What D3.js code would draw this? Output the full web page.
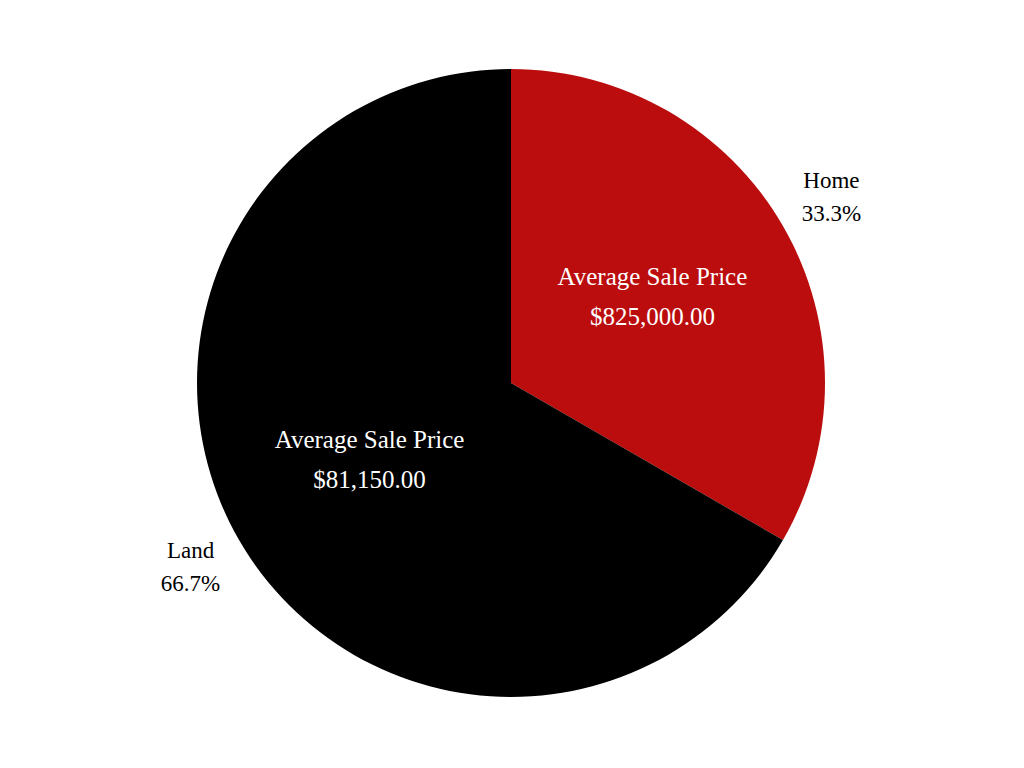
<!DOCTYPE html>
<html lang="en">
<head>
  <meta charset="UTF-8">
  <title>Average Sale Price by Property Type</title>
  <script src="https://d3js.org/d3.v7.min.js"></script>
  <style>
    body { margin: 0; background: #fff; }
    text { font-family: 'Liberation Serif', 'DejaVu Serif', serif; }
    .inner { fill: #fff; font-size: 25px; }
    .outer { fill: #000; font-size: 23px; }
  </style>
</head>
<body>
  <svg id="chart" width="1024" height="768"></svg>
  <script>
    const categories = ["Home", "Land"];
    const counts = [1, 2];
    const avgPrices = [825000, 81150];
    const colors = ["#bb0d0d", "#000000"];

    const svg = d3.select("#chart");
    const cx = 511, cy = 383;
    const radius = 314;

    const data = categories.map((c, i) => ({ name: c, count: counts[i], price: avgPrices[i], color: colors[i] }));
    const total = d3.sum(counts);

    const pie = d3.pie().sort(null).value(d => d.count);
    const arcs = pie(data);

    const arc = d3.arc().innerRadius(0).outerRadius(radius);
    const innerArc = d3.arc().innerRadius(radius * 0.52).outerRadius(radius * 0.52);
    const outerArc = d3.arc().innerRadius(370).outerRadius(370);

    const g = svg.append("g").attr("transform", `translate(${cx},${cy})`);

    g.selectAll("path")
      .data(arcs)
      .enter()
      .append("path")
      .attr("d", arc)
      .attr("fill", d => d.data.color);

    const money = d3.format("$,.2f");
    const pct = d3.format(".1%");

    // labels inside the slices
    arcs.forEach(d => {
      const [x, y] = innerArc.centroid(d);
      const t = g.append("text")
        .attr("class", "inner")
        .attr("text-anchor", "middle")
        .attr("transform", `translate(${x},${y})`);
      t.append("tspan").attr("x", 0).attr("y", -25).attr("dy", "0.35em").text("Average Sale Price");
      t.append("tspan").attr("x", 0).attr("y", 15).attr("dy", "0.35em").text(money(d.data.price));
    });

    // labels outside the pie
    arcs.forEach(d => {
      const [x, y] = outerArc.centroid(d);
      const t = g.append("text")
        .attr("class", "outer")
        .attr("text-anchor", "middle")
        .attr("transform", `translate(${x},${y})`);
      t.append("tspan").attr("x", 0).attr("y", -18).attr("dy", "0.35em").text(d.data.name);
      t.append("tspan").attr("x", 0).attr("y", 15).attr("dy", "0.35em").text(pct(d.data.count / total));
    });
  </script>
</body>
</html>
